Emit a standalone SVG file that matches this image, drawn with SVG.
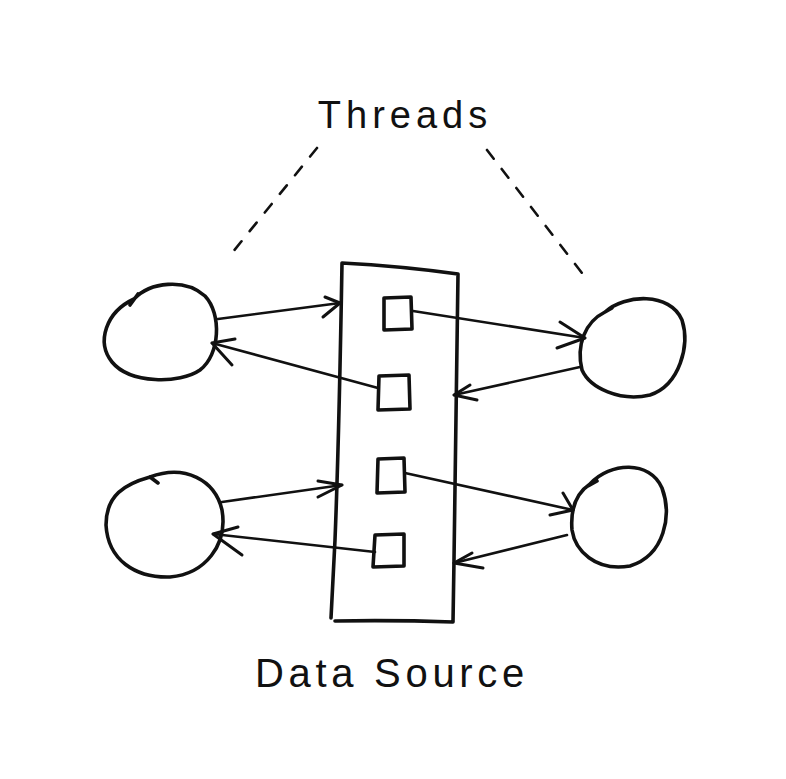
<svg xmlns="http://www.w3.org/2000/svg" width="786" height="779" viewBox="0 0 786 779">
<style>
.ink{fill:none;stroke:#111;stroke-linecap:round;stroke-linejoin:round}
.node{stroke-width:3.6}
.conn{stroke-width:2.6}
.head{stroke-width:3}
.dash{stroke-width:2.6;stroke-dasharray:11 13}
.lbl{font-family:"Liberation Sans",Arial,sans-serif;fill:#111}
</style>
<rect width="786" height="779" fill="#fff"/>
<g id="threads-label">
<text class="lbl" x="405" y="128" text-anchor="middle" font-size="38" letter-spacing="5">Threads</text>
<path class="ink dash" d="M317,148 L232,253"/>
<path class="ink dash" d="M487,150 L582,273"/>
</g>
<g id="data-source">
<path class="ink node" d="M342,263 Q400,266 458,274 Q456,440 454,560 L453,622 Q395,620 335,621 M342,263 Q339,440 335,540 L331,618"/>
<text class="lbl" x="392" y="687" text-anchor="middle" font-size="40" letter-spacing="4.7">Data Source</text>
</g>
<g id="slot1"><path class="ink node" d="M384,298 L411,297 L412,329 L384,330 Z"/></g>
<g id="slot2"><path class="ink node" d="M379,376 L409,375 L410,409 L378,410 Z"/></g>
<g id="slot3"><path class="ink node" d="M378,459 L404,458 L405,492 L377,493 Z"/></g>
<g id="slot4"><path class="ink node" d="M375,535 L404,534 L404,566 L373,567 Z"/></g>
<g id="thread-tl"><path class="ink node" d="M134,299 C150,282 185,278 205,296 C222,314 220,355 200,370 C180,384 130,384 112,362 C96,342 106,312 134,299 M130,305 L138,294"/></g>
<g id="thread-tr"><path class="ink node" d="M605,312 C625,294 670,292 682,320 C690,345 680,385 650,395 C620,402 590,388 582,370 C576,345 585,322 605,312 M605,312 L612,308"/></g>
<g id="thread-bl"><path class="ink node" d="M150,477 C185,464 215,480 222,510 C228,545 205,574 170,577 C135,578 108,560 106,525 C106,495 125,484 150,477 M150,477 L158,483"/></g>
<g id="thread-br"><path class="ink node" d="M590,484 C610,462 650,460 662,488 C672,515 665,555 630,566 C595,572 575,550 572,530 C570,505 578,492 590,484 M588,486 L597,481"/></g>
<g id="connectors">
<path class="ink conn" d="M218,319 L340,303"/>
<path class="ink head" d="M325,297 L340,303 L323,317"/>
<path class="ink conn" d="M378,388 L212,343"/>
<path class="ink head" d="M235,339 L212,343 L232,365"/>
<path class="ink conn" d="M413,311 L585,338"/>
<path class="ink head" d="M560,322 L585,338 L557,348"/>
<path class="ink conn" d="M580,367 L454,395"/>
<path class="ink head" d="M470,385 L454,395 L477,400"/>
<path class="ink conn" d="M222,502 L342,485"/>
<path class="ink head" d="M318,481 L342,485 L318,497"/>
<path class="ink conn" d="M375,552 L213,534"/>
<path class="ink head" d="M238,527 L213,534 L242,555"/>
<path class="ink conn" d="M405,473 L573,510"/>
<path class="ink head" d="M563,493 L573,510 L550,515"/>
<path class="ink conn" d="M567,535 L454,563"/>
<path class="ink head" d="M472,553 L454,563 L483,568"/>
</g>
</svg>
